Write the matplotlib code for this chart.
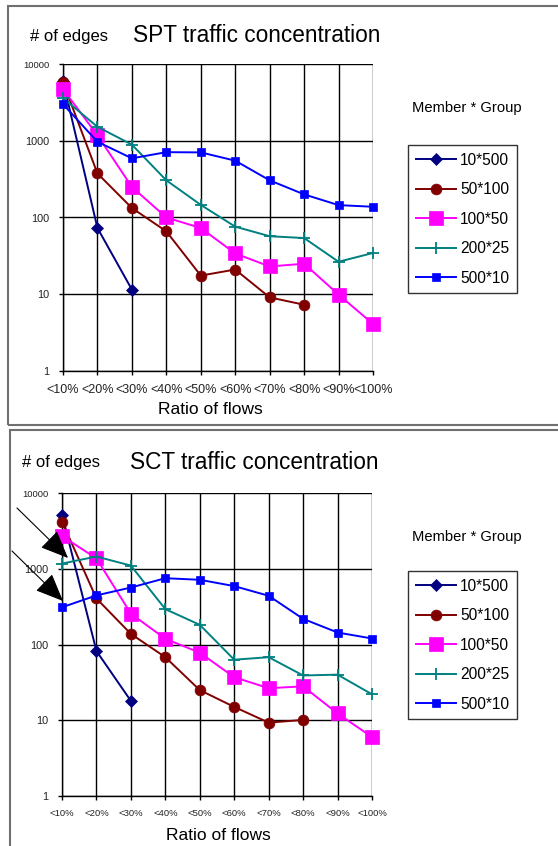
import matplotlib
matplotlib.use("Agg")
import matplotlib.pyplot as plt
from matplotlib.patches import Rectangle, FancyArrowPatch

plt.rcParams['font.family'] = ['Liberation Sans', 'DejaVu Sans']

categories = ['<10%', '<20%', '<30%', '<40%', '<50%', '<60%', '<70%', '<80%', '<90%', '<100%']
series_names = ['10*500', '50*100', '100*50', '200*25', '500*10']

spt_10x500 = [6000, 73, 11.5]
spt_50x100 = [5800, 375, 133, 66, 17.5, 21, 9.1, 7.3]
spt_100x50 = [4700, 1180, 250, 100, 73, 34, 23, 25, 9.9, 4.1]
spt_200x25 = [3600, 1520, 890, 305, 146, 76, 57, 54, 26.5, 34.5]
spt_500x10 = [3000, 970, 590, 710, 705, 550, 305, 200, 145, 138]

sct_10x500 = [5200, 82, 18]
sct_50x100 = [4200, 405, 138, 68, 25, 15, 9.3, 10.1]
sct_100x50 = [2700, 1370, 255, 119, 78, 37, 26.5, 28, 12.3, 6.0]
sct_200x25 = [1170, 1450, 1100, 293, 182, 63, 68, 39, 40, 22]
sct_500x10 = [310, 445, 565, 750, 715, 590, 440, 218, 144, 120]

colors = ['#000080', '#800000', '#FF00FF', '#008080', '#0000FF']
markers = ['D', 'o', 's', '+', 's']
msizes = [6.5, 7.8, 9.5, 8, 5.5]

W, H = 558, 846
fig = plt.figure(figsize=(W / 100, H / 100), dpi=100)


def fx(px):
    return px / W


def fy(py):
    return 1 - py / H


# panel frames
fig.add_artist(Rectangle((fx(8), fy(425)), fx(560) - fx(8), fy(6.5) - fy(425),
                         transform=fig.transFigure, fill=False, edgecolor='#707070', lw=1.5))
fig.add_artist(Rectangle((fx(10), fy(860)), fx(560) - fx(10), fy(430) - fy(860),
                         transform=fig.transFigure, fill=False, edgecolor='#707070', lw=1.5))


def make_panel(left, right, top, bottom, data, title, title_y, edges_x, title_x,
               xlab_y, xlab_x, xtick_fs, legend_top, member_y):
    ax = fig.add_axes([fx(left), fy(bottom), fx(right) - fx(left), fy(top) - fy(bottom)])
    ax.set_yscale('log')
    ax.set_ylim(1, 10000)
    ax.set_xlim(0, len(categories) - 1)
    ax.set_xticks(range(len(categories)))
    ax.set_xticklabels(categories, fontsize=xtick_fs, color='#222222')
    ax.set_yticks([1, 10, 100, 1000, 10000])
    ax.set_yticklabels(['1', '10', '100', '1000', '10000'], fontsize=7.8, color='#222222')
    ax.yaxis.get_majorticklabels()[-1].set_fontsize(6.8)
    ax.minorticks_off()
    ax.tick_params(axis='both', direction='out', length=3, width=1, color='black')
    ax.tick_params(axis='x', pad=6)
    ax.tick_params(axis='y', pad=7)
    ax.grid(True, which='major', color='black', lw=1)
    for s in ['top', 'right']:
        ax.spines[s].set_visible(False)
    for s in ['left', 'bottom']:
        ax.spines[s].set_linewidth(1)
    handles = []
    for name, vals, c, m, ms in zip(series_names, data, colors, markers, msizes):
        h, = ax.plot(range(len(vals)), vals, color=c, marker=m, markersize=ms, lw=1.4,
                     markeredgewidth=1.3 if m == '+' else 0.5, markeredgecolor=c,
                     clip_on=False, zorder=3, label=name)
        handles.append(h)
    fig.text(fx(edges_x), fy(title_y), '# of edges', fontsize=12, va='center', ha='left')
    fig.text(fx(title_x), fy(title_y), title, fontsize=16.3, va='center', ha='left')
    fig.text(fx(xlab_x), fy(xlab_y), 'Ratio of flows', fontsize=12.5, va='center', ha='center')
    fig.text(fx(412), fy(member_y), 'Member * Group', fontsize=10.6, va='center', ha='left')
    leg = fig.legend(handles=handles, loc='upper left',
                     bbox_to_anchor=(fx(408), fy(legend_top)), bbox_transform=fig.transFigure,
                     fontsize=11.2, frameon=True, fancybox=False, shadow=False,
                     handlelength=2.6, handletextpad=0.25, labelspacing=0.93,
                     borderpad=0.5, borderaxespad=0, edgecolor='black')
    leg.get_frame().set_linewidth(1)
    return ax


make_panel(63, 373, 64, 371,
           [spt_10x500, spt_50x100, spt_100x50, spt_200x25, spt_500x10],
           'SPT traffic concentration', 36, 30, 133, 410, 210, 9, 145, 108)
make_panel(62, 372, 493, 796,
           [sct_10x500, sct_50x100, sct_100x50, sct_200x25, sct_500x10],
           'SCT traffic concentration', 462, 22, 130, 835, 218, 6.8, 571, 537)

# arrows in the SCT panel
for (x0, y0, x1, y1) in [(17, 508, 68, 558), (12, 551, 63, 601)]:
    fig.add_artist(FancyArrowPatch(
        (fx(x0), fy(y0)), (fx(x1), fy(y1)), transform=fig.transFigure,
        arrowstyle='-|>,head_length=1.3,head_width=0.55', mutation_scale=13.5,
        color='black', lw=0.8, shrinkA=0, shrinkB=0, zorder=10))

fig.savefig('out.png', dpi=100)
